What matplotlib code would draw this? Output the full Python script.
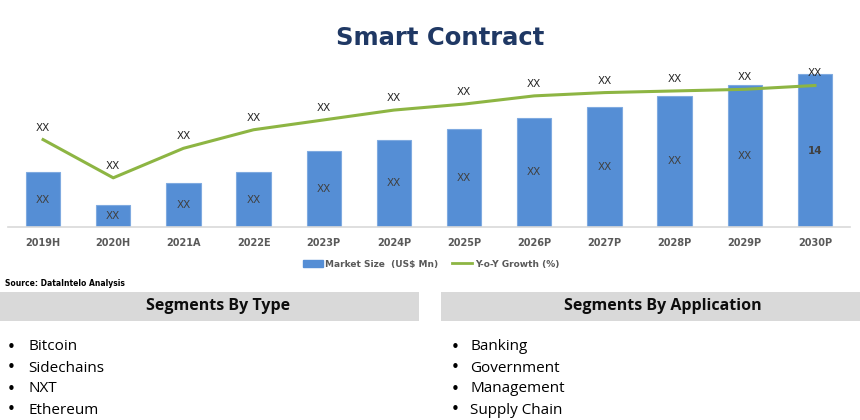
import matplotlib
matplotlib.use("Agg")
import matplotlib.pyplot as plt
from matplotlib.patches import Rectangle, Patch
from matplotlib.lines import Line2D

years = ["2019H", "2020H", "2021A", "2022E", "2023P", "2024P", "2025P",
         "2026P", "2027P", "2028P", "2029P", "2030P"]
market_size = [5, 2, 4, 5, 7, 8, 9, 10, 11, 12, 13, 14]
growth = [8.0, 4.5, 7.2, 8.9, 9.8, 10.7, 11.25, 12.0, 12.3, 12.45, 12.6, 12.95]
bar_labels = ["XX"] * 11 + ["14"]
line_labels = ["XX"] * 12
type_segments = ["Bitcoin", "Sidechains", "NXT", "Ethereum"]
app_segments = ["Banking", "Government", "Management", "Supply Chain"]

W, H = 860, 420
fig = plt.figure(figsize=(W / 100, H / 100), dpi=100)
fig.patch.set_facecolor("white")

bar_color = "#558ED5"
line_color = "#8DB543"

ax = fig.add_axes([8 / W, (H - 227) / H, 842 / W, (227 - 62) / H])
x = list(range(len(years)))
ax.bar(x, market_size, width=0.49, color=bar_color, edgecolor="#7FAAE0",
       linewidth=0.8, zorder=2)
ax.set_xlim(-0.5, len(years) - 0.5)
ax.set_ylim(0, 15.1)
for s in ["top", "right", "left"]:
    ax.spines[s].set_visible(False)
ax.spines["bottom"].set_color("#D9D9D9")
ax.spines["bottom"].set_linewidth(1.2)
ax.set_yticks([])
ax.set_xticks(x)
ax.set_xticklabels(years, fontsize=7, fontweight="bold", color="#595959",
                   family="DejaVu Sans")
ax.tick_params(axis="x", length=0, pad=8)

for xi, v, lab in zip(x, market_size, bar_labels):
    ax.text(xi, v / 2, lab, ha="center", va="center", fontsize=7.5,
            color="#404040", fontweight="bold" if lab != "XX" else "normal", zorder=4)

ax2 = ax.twinx()
ax2.set_ylim(ax.get_ylim())
ax2.axis("off")
ax2.plot(x, growth, color=line_color, linewidth=2.2, zorder=3)
for xi, v, lab in zip(x, growth, line_labels):
    ax2.text(xi, v + 1.1, lab, ha="center", va="center", fontsize=7.5,
             color="#262626")

# Title
fig.text(440 / W, 1 - 38 / H, "Smart Contract", ha="center", va="center",
         fontsize=17.5, fontweight="bold", color="#1F3864", family="DejaVu Sans")

# Legend
handles = [Patch(facecolor=bar_color, edgecolor=bar_color),
           Line2D([0], [0], color=line_color, linewidth=2)]
leg = fig.legend(handles, ["Market Size  (US$ Mn)", "Y-o-Y Growth (%)"],
                 loc="center", bbox_to_anchor=(431 / W, 1 - 264 / H), ncol=2,
                 frameon=False, fontsize=6.5, handlelength=2.2, handleheight=0.7,
                 columnspacing=1.5, handletextpad=0.3)
for t in leg.get_texts():
    t.set_color("#595959")
    t.set_fontweight("bold")

# Source
fig.text(5 / W, 1 - 283 / H, "Source: DataIntelo Analysis", ha="left",
         va="center", fontsize=5.5, fontweight="bold", color="#000000")

# Segment header boxes
box_color = "#D9D9D9"
fig.patches.append(Rectangle((0, 1 - 321 / H), 419 / W, 29.5 / H,
                             transform=fig.transFigure, facecolor=box_color,
                             edgecolor="none"))
fig.patches.append(Rectangle((441 / W, 1 - 321 / H), 419 / W, 29.5 / H,
                             transform=fig.transFigure, facecolor=box_color,
                             edgecolor="none"))
fig.text(218 / W, 1 - 306.5 / H, "Segments By Type", ha="center", va="center",
         fontsize=11.5, fontweight="bold", color="#0D0D0D", family="Open Sans")
fig.text(663 / W, 1 - 306.5 / H, "Segments By Application", ha="center",
         va="center", fontsize=11.5, fontweight="bold", color="#0D0D0D",
         family="Open Sans")

rows_y = [347, 368, 389, 410]
for items, bx, tx in [(type_segments, 11, 28), (app_segments, 455, 470)]:
    for item, yy in zip(items, rows_y):
        fig.text(bx / W, 1 - yy / H, "\u2022", ha="center", va="center",
                 fontsize=11, color="#000000")
        fig.text(tx / W, 1 - yy / H, item, ha="left", va="center",
                 fontsize=11, color="#000000", family="Open Sans")

fig.savefig("out.png", dpi=100)
